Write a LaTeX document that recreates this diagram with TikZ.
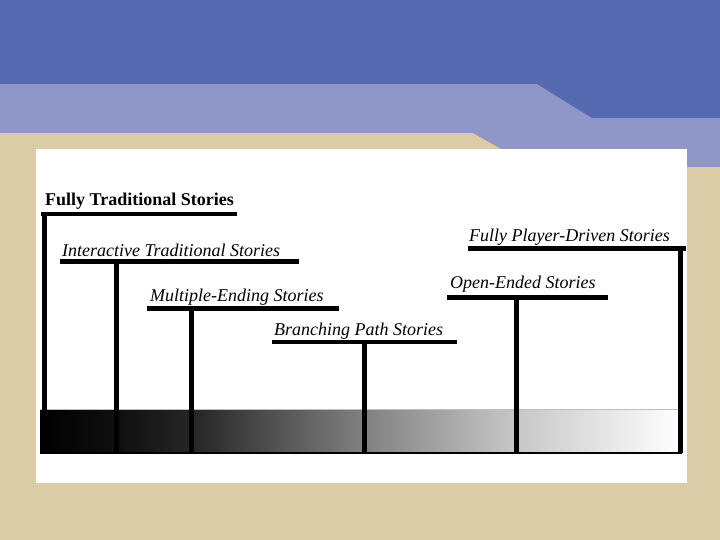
\documentclass[tikz,border=0pt]{standalone}
\usepackage{xcolor}
\usepackage{fontspec}
\setmainfont{Liberation Serif}
\usepackage{tikz}
\usetikzlibrary{shapes}
\pgfdeclarelayer{background}
\pgfsetlayers{background, main}
\definecolor{slideblue}{RGB}{85,106,176}
\definecolor{slidelight}{RGB}{143,151,200}
\definecolor{slidetan}{RGB}{219,204,168}
\pgfdeclarehorizontalshading{fade}{100bp}{color(0bp)=(black); color(25bp)=(black); color(31bp)=(black!94); color(37bp)=(black!85); color(50bp)=(black!50); color(62bp)=(black!22); color(75bp)=(white); color(100bp)=(white)}
\tikzstyle{story} = [anchor=base west, inner sep=0pt, font=\fontsize{18}{21}\selectfont\itshape]
\tikzstyle{bar} = [line width=4.5pt]
\tikzstyle{post} = [line width=5pt]

\begin{document}
\begin{tikzpicture}[x=1pt, y=-1pt]
  \useasboundingbox (0, 0) rectangle (720, 540);

  \begin{pgfonlayer}{background}
    \fill[slidetan] (0, 0) rectangle (720, 540);
    \fill[slidelight] (0, 0) -- (720, 0) -- (720, 167) -- (533, 167) -- (473, 133) -- (0, 133) -- cycle;
    \fill[slideblue] (0, 0) -- (720, 0) -- (720, 118) -- (592, 118) -- (537, 84) -- (0, 84) -- cycle;
    \fill[white] (36, 149) rectangle (687, 483);
  \end{pgfonlayer}

  % scale at the bottom
  \coordinate (scale-nw) at (40, 409);
  \coordinate (scale-se) at (682, 453);
  \shade[shading=fade] (scale-nw) rectangle (scale-se);
  \draw[gray!50, line width=1pt] (scale-nw) -- (scale-nw -| scale-se);
  \draw[line width=1.5pt] (scale-nw |- scale-se) -- (scale-se);

  \node[story, font=\fontsize{18}{21}\selectfont\bfseries] at (45, 206) (fulltrad) {Fully Traditional Stories};
  \node[story] at (62, 256) (intertrad) {Interactive Traditional Stories};
  \node[story] at (150, 301) (multiend) {Multiple-Ending Stories};
  \node[story] at (274, 335) (branch) {Branching Path Stories};
  \node[story] at (450, 288) (openend) {Open-Ended Stories};
  \node[story] at (469, 241) (playerdrv) {Fully Player-Driven Stories};

  \coordinate (fulltrad-l) at (41, 214);    \coordinate (fulltrad-r) at (237, 214);
  \coordinate (intertrad-l) at (60, 261.5); \coordinate (intertrad-r) at (299, 261.5);
  \coordinate (multiend-l) at (147, 308.5); \coordinate (multiend-r) at (339, 308.5);
  \coordinate (branch-l) at (272, 342);     \coordinate (branch-r) at (457, 342);
  \coordinate (openend-l) at (447, 297.5);  \coordinate (openend-r) at (608, 297.5);
  \coordinate (playerdrv-l) at (468, 248.5);\coordinate (playerdrv-r) at (686, 248.5);

  \coordinate (fulltrad-p) at (44, 214);
  \coordinate (intertrad-p) at (116, 261.5);
  \coordinate (multiend-p) at (191, 308.5);
  \coordinate (branch-p) at (364, 342);
  \coordinate (openend-p) at (516, 297.5);
  \coordinate (playerdrv-p) at (680, 248.5);

  \draw[bar] (fulltrad-l) -- (fulltrad-r);
  \draw[bar] (intertrad-l) -- (intertrad-r);
  \draw[bar] (multiend-l) -- (multiend-r);
  \draw[bar] (branch-l) -- (branch-r);
  \draw[bar] (openend-l) -- (openend-r);
  \draw[bar] (playerdrv-l) -- (playerdrv-r);

  \draw[post] (fulltrad-p) -- (fulltrad-p |- scale-se);
  \draw[post] (intertrad-p) -- (intertrad-p |- scale-se);
  \draw[post] (multiend-p) -- (multiend-p |- scale-se);
  \draw[post] (branch-p) -- (branch-p |- scale-se);
  \draw[post] (openend-p) -- (openend-p |- scale-se);
  \draw[post] (playerdrv-p) -- (playerdrv-p |- scale-se);

\end{tikzpicture}
\end{document}
